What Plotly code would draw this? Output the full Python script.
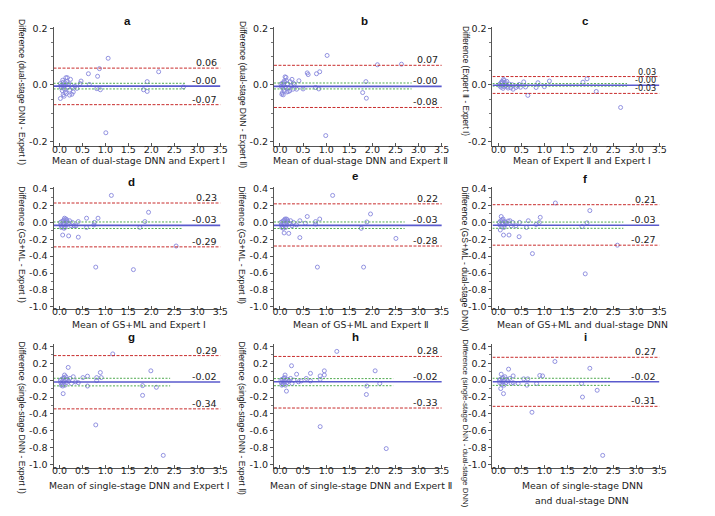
import plotly.graph_objects as go

# The page body has an 8px margin, so the figure is drawn 8px smaller and
# all reference-pixel positions are shifted by that offset.
OFF = 8
W, H = 715 - OFF, 516 - OFF

# ---------------- data ----------------
panel_letters = ["a", "b", "c", "d", "e", "f", "g", "h", "i"]

x_titles = [
    ["Mean of dual-stage DNN and Expert Ⅰ"],
    ["Mean of dual-stage DNN and Expert Ⅱ"],
    ["Mean of Expert Ⅱ and Expert Ⅰ"],
    ["Mean of GS+ML and Expert Ⅰ"],
    ["Mean of GS+ML and Expert Ⅱ"],
    ["Mean of GS+ML and dual-stage DNN"],
    ["Mean of single-stage DNN and Expert Ⅰ"],
    ["Mean of single-stage DNN and Expert Ⅱ"],
    ["Mean of single-stage DNN", "and dual-stage DNN"],
]
y_titles = [
    "Difference (dual-stage DNN - Expert Ⅰ)",
    "Difference (dual-stage DNN - Expert Ⅱ)",
    "Difference (Expert Ⅱ - Expert Ⅰ)",
    "Difference (GS+ML - Expert Ⅰ)",
    "Difference (GS+ML - Expert Ⅱ)",
    "Difference (GS+ML - dual-stage DNN)",
    "Difference (single-stage DNN - Expert Ⅰ)",
    "Difference (single-stage DNN - Expert Ⅱ)",
    "Difference (single-stage DNN - dual-stage DNN)",
]

# limits of agreement (upper, lower), mean difference, CI of mean, CI line end
upper_loa = [0.06, 0.07, 0.03, 0.23, 0.22, 0.21, 0.29, 0.28, 0.27]
lower_loa = [-0.07, -0.08, -0.03, -0.29, -0.28, -0.27, -0.34, -0.33, -0.31]
mean_diff = [-0.004, -0.005, -0.001, -0.035, -0.035, -0.033, -0.022, -0.020, -0.020]
ci_high = [0.006, 0.007, 0.005, 0.005, 0.005, 0.004, 0.022, 0.018, 0.022]
ci_low = [-0.014, -0.014, -0.004, -0.072, -0.072, -0.070, -0.068, -0.066, -0.062]
ci_end = [2.75, 2.85, 2.80, 2.68, 2.70, 2.72, 2.41, 2.45, 2.43]
upper_lbl = ["0.06", "0.07", "0.03", "0.23", "0.22", "0.21", "0.29", "0.28", "0.27"]
mean_lbl = ["-0.00", "-0.00", "-0.00", "-0.03", "-0.03", "-0.03", "-0.02", "-0.02", "-0.02"]
lower_lbl = ["-0.07", "-0.08", "-0.03", "-0.29", "-0.28", "-0.27", "-0.34", "-0.33", "-0.31"]

a_x = [1.06, 1.01, 2.16, 1.91, 1.91, 1.83, 2.70, 0.83, 0.87, 0.63, 0.89, 0.81, 0.47, 0.45, 0.38, 0.34,
       0.65, 0.22, 0.27, 0.14, 0.17, 0.02, 0.08, 0.02, 0.04, 0.05, 0.06, 0.08, 0.09, 0.10, 0.11, 0.12,
       0.13, 0.14, 0.15, 0.16, 0.18, 0.20, 0.22, 0.24, 0.25, 0.28, 0.30, 0.07, 0.03, 0.10]
a_y = [0.095, -0.170, 0.047, 0.012, -0.023, -0.017, -0.007, 0.031, 0.058, 0.040, -0.017, -0.013, 0.014,
       0.005, -0.012, -0.005, 0.002, -0.036, -0.033, 0.026, 0.026, -0.048, -0.035, 0.005, -0.010, 0.000,
       -0.020, 0.010, -0.005, 0.000, -0.015, 0.008, -0.025, 0.000, -0.030, 0.012, -0.008, 0.004, -0.018,
       0.020, 0.000, -0.010, -0.025, 0.017, -0.004, -0.040]

b_x = [1.02, 0.99, 2.11, 2.63, 1.86, 1.79, 1.87, 0.86, 0.59, 0.61, 0.79, 0.77, 0.84, 0.50, 0.41, 0.29,
       0.36, 0.11, 0.13, 0.18, 0.21, 0.07, 0.04, 0.02, 0.03, 0.05, 0.06, 0.08, 0.09, 0.10, 0.12, 0.14,
       0.15, 0.16, 0.19, 0.22, 0.24, 0.26, 0.28, 0.31, 0.05, 0.09]
b_y = [0.105, -0.180, 0.072, 0.074, 0.012, -0.027, -0.047, 0.047, 0.043, 0.037, 0.040, -0.009, -0.014,
       -0.014, 0.015, 0.006, -0.015, 0.029, 0.027, -0.023, -0.021, -0.035, -0.033, 0.003, -0.005, 0.006,
       -0.012, 0.000, -0.020, 0.010, -0.008, 0.015, -0.025, 0.004, -0.010, 0.012, -0.003, 0.020, -0.015,
       0.002, -0.028, 0.014]

c_x = [2.66, 2.13, 1.93, 1.84, 1.11, 0.86, 0.82, 1.00, 0.55, 0.64, 0.59, 0.32, 0.38, 0.21, 0.11, 0.07,
       0.02, 0.03, 0.05, 0.06, 0.08, 0.09, 0.10, 0.12, 0.13, 0.14, 0.15, 0.16, 0.18, 0.20, 0.24, 0.27,
       0.30, 0.42, 0.45, 0.48]
c_y = [-0.080, -0.023, 0.022, 0.010, 0.014, 0.008, -0.009, -0.006, 0.011, -0.037, -0.007, -0.015,
       -0.009, -0.011, 0.020, 0.011, 0.002, -0.004, 0.006, -0.008, 0.012, 0.000, -0.012, 0.016, -0.006,
       0.004, 0.009, -0.002, 0.013, -0.005, 0.003, -0.010, 0.001, -0.004, 0.002, -0.008]

d_x = [1.13, 0.79, 1.61, 1.94, 1.86, 1.75, 2.54, 0.59, 0.84, 0.76, 0.75, 0.59, 0.41, 0.41, 0.20, 0.07,
       0.32, 0.36, 0.11, 0.02, 0.03, 0.05, 0.06, 0.08, 0.09, 0.10, 0.12, 0.13, 0.14, 0.15, 0.17, 0.19,
       0.22, 0.25, 0.28, 0.04, 0.10, 0.16]
d_y = [0.320, -0.530, -0.560, 0.120, 0.010, -0.060, -0.280, 0.050, 0.050, 0.000, -0.030, -0.060, 0.010,
       -0.175, -0.160, -0.150, -0.040, -0.040, 0.050, 0.000, -0.030, 0.010, -0.050, 0.020, -0.020, 0.030,
       -0.060, 0.000, 0.040, -0.030, 0.010, -0.010, 0.020, -0.040, 0.000, -0.060, -0.070, 0.030]

e_x = [1.14, 0.81, 1.81, 1.96, 1.88, 1.76, 2.51, 0.59, 0.86, 0.77, 0.77, 0.55, 0.43, 0.19, 0.09, 0.36,
       0.43, 0.11, 0.02, 0.03, 0.05, 0.06, 0.08, 0.09, 0.10, 0.12, 0.13, 0.14, 0.15, 0.17, 0.20, 0.23,
       0.26, 0.29, 0.04, 0.07, 0.16]
e_y = [0.320, -0.530, -0.530, 0.100, 0.005, -0.070, -0.190, 0.070, 0.040, 0.010, -0.020, -0.010,
       -0.180, -0.130, -0.125, -0.030, 0.020, 0.040, 0.000, -0.030, 0.010, -0.050, 0.020, -0.020, 0.030,
       -0.060, 0.000, 0.040, -0.030, 0.010, -0.010, 0.020, -0.040, 0.000, -0.060, -0.070, 0.030]

f_x = [1.24, 0.74, 1.89, 1.99, 1.93, 1.82, 2.59, 0.91, 0.89, 0.82, 0.65, 0.61, 0.45, 0.23, 0.11, 0.46,
       0.38, 0.21, 0.06, 0.04, 0.02, 0.03, 0.05, 0.07, 0.08, 0.09, 0.10, 0.12, 0.13, 0.14, 0.16, 0.18,
       0.25, 0.28, 0.31]
f_y = [0.230, -0.370, -0.610, 0.140, -0.005, -0.050, -0.270, 0.060, 0.000, -0.025, 0.020, -0.060,
       -0.170, -0.150, -0.150, 0.000, -0.040, 0.016, 0.070, -0.090, 0.000, -0.030, 0.020, -0.050, 0.030,
       -0.020, 0.040, -0.060, 0.010, -0.030, 0.000, -0.010, 0.020, -0.040, 0.000]

g_x = [1.16, 0.79, 2.26, 1.99, 1.81, 2.11, 1.81, 0.89, 0.91, 0.81, 0.81, 0.61, 0.61, 0.51, 0.41, 0.30,
       0.19, 0.08, 0.02, 0.03, 0.05, 0.06, 0.08, 0.09, 0.10, 0.12, 0.13, 0.14, 0.15, 0.17, 0.20, 0.23,
       0.26, 0.04, 0.07, 0.11, 0.35]
g_y = [0.310, -0.530, -0.890, 0.110, -0.065, -0.085, -0.180, 0.090, 0.030, 0.030, -0.005, 0.047,
       -0.070, 0.030, -0.030, 0.040, 0.150, -0.160, 0.000, -0.030, 0.010, -0.050, 0.020, -0.020, 0.030,
       -0.060, 0.000, 0.040, -0.030, 0.010, -0.010, 0.020, -0.040, -0.060, -0.070, 0.060, -0.020]

h_x = [1.23, 0.87, 2.30, 2.06, 2.16, 1.88, 1.87, 0.96, 0.96, 0.87, 0.87, 0.66, 0.66, 0.57, 0.46, 0.36,
       0.25, 0.14, 0.02, 0.03, 0.05, 0.06, 0.08, 0.09, 0.10, 0.12, 0.13, 0.15, 0.17, 0.20, 0.23, 0.26,
       0.04, 0.07, 0.11, 0.30, 0.40]
h_y = [0.340, -0.550, -0.810, 0.110, -0.040, -0.070, -0.170, 0.110, 0.060, 0.050, 0.010, 0.080,
       -0.010, 0.020, -0.010, 0.070, 0.170, -0.130, 0.000, -0.030, 0.010, -0.050, 0.020, -0.020, 0.030,
       -0.060, 0.000, -0.030, 0.010, -0.010, 0.020, -0.040, -0.060, -0.050, 0.060, 0.000, -0.020]

i_x = [1.23, 0.73, 2.27, 1.99, 2.15, 1.81, 1.83, 0.90, 0.96, 0.83, 0.64, 0.62, 0.55, 0.43, 0.32, 0.32,
       0.22, 0.11, 0.06, 0.05, 0.02, 0.03, 0.04, 0.07, 0.08, 0.09, 0.10, 0.12, 0.13, 0.14, 0.16, 0.18,
       0.20, 0.25, 0.28]
i_y = [0.220, -0.380, -0.890, 0.140, -0.120, -0.040, -0.200, 0.055, 0.050, -0.040, 0.015, -0.060,
       0.015, -0.040, 0.050, -0.030, 0.130, -0.160, 0.070, -0.100, 0.000, -0.030, 0.010, -0.050, 0.020,
       -0.020, 0.030, -0.060, 0.000, 0.040, -0.030, 0.010, -0.010, 0.020, -0.040]

xs = [a_x, b_x, c_x, d_x, e_x, f_x, g_x, h_x, i_x]
ys = [a_y, b_y, c_y, d_y, e_y, f_y, g_y, h_y, i_y]

x_tick_vals = [0.0, 0.5, 1.0, 1.5, 2.0, 2.5, 3.0, 3.5]
y_tick_vals_small = [-0.2, 0.0, 0.2]
y_tick_vals_large = [-1.0, -0.8, -0.6, -0.4, -0.2, 0.0, 0.2, 0.4]

# ---------------- layout geometry (reference pixels) ----------------
col_px = [(52, 222), (275, 446), (496, 666)]
row_px = [(23, 144), (185, 309), (345, 470)]
x_range = [-0.13, 3.53]
y_ranges = [[-0.2175, 0.207], [-1.025, 0.425], [-1.035, 0.423]]
title_pos = [(127, 17), (367, 17), (590, 17), (131, 180), (357, 174), (590, 177),
             (131, 338), (357, 338), (590, 338)]
ytitle_x = [20, 243, 468]
ytitle_top = [13, 15, 20, 183, 183, 183, 340, 340, 338]
ytitle_size = [8.6, 8.6, 8.2, 8.8, 8.8, 8.6, 8.6, 8.6, 7.9]
xtitle_y = [159, 325, 488]
xtitle_cx = [138, 363, 587]
label_size = [9.5, 9.5, 8.2, 9.5, 9.5, 9.5, 9.5, 9.5, 9.5]

RED = "rgb(200,45,45)"
BLUE = "rgb(90,90,205)"
GREEN = "rgb(80,170,80)"
MARK = "rgb(135,135,220)"
FONT = "Liberation Sans, Arial, sans-serif"
WIDE = "DejaVu Sans, Verdana, sans-serif"


def px_x(p):
    return (p - OFF) / W


def px_y(p):
    return 1 - (p - OFF) / H


fig = go.Figure()
layout = dict(width=W, height=H, margin=dict(l=0, r=0, t=0, b=0),
              paper_bgcolor="white", plot_bgcolor="white", showlegend=False,
              font=dict(family=FONT, size=9, color="#222"))
annotations = []

for k in range(9):
    r, c = divmod(k, 3)
    sfx = "" if k == 0 else str(k + 1)
    xa, ya = "x" + sfx, "y" + sfx
    x0 = x_range[0]
    x1 = 3.5
    # scatter
    fig.add_trace(go.Scatter(x=xs[k], y=ys[k], mode="markers", xaxis=xa, yaxis=ya,
                             marker=dict(symbol="circle-open", size=4,
                                         color=MARK, line=dict(width=0.9, color=MARK))))
    # CI of mean (green dotted)
    for v in (ci_high[k], ci_low[k]):
        fig.add_trace(go.Scatter(x=[x0, ci_end[k]], y=[v, v], mode="lines", xaxis=xa, yaxis=ya,
                                 line=dict(color=GREEN, width=1, dash="2px,1.5px")))
    # limits of agreement (red dashed)
    for v in (upper_loa[k], lower_loa[k]):
        fig.add_trace(go.Scatter(x=[x0, x1], y=[v, v], mode="lines", xaxis=xa, yaxis=ya,
                                 line=dict(color=RED, width=1, dash="3px,1.5px")))
    # mean difference (blue solid)
    fig.add_trace(go.Scatter(x=[x0, x1], y=[mean_diff[k], mean_diff[k]], mode="lines",
                             xaxis=xa, yaxis=ya, line=dict(color=BLUE, width=1.6)))
    # line labels
    for v, t in ((upper_loa[k], upper_lbl[k]), (mean_diff[k], mean_lbl[k]), (lower_loa[k], lower_lbl[k])):
        annotations.append(dict(x=3.47, y=v, xref=xa, yref=ya, text=t, showarrow=False,
                                xanchor="right", yanchor="bottom", yshift=-2,
                                font=dict(family=WIDE, size=label_size[k], color="#222")))

    ytv = y_tick_vals_small if r == 0 else y_tick_vals_large
    layout["xaxis" + sfx] = dict(
        domain=[px_x(col_px[c][0]), px_x(col_px[c][1])], range=x_range, anchor=ya,
        tickvals=x_tick_vals, ticktext=["%.1f" % v for v in x_tick_vals],
        showgrid=False, zeroline=False, showline=True, linecolor="#555", linewidth=1,
        ticks="inside", ticklen=3, tickcolor="#555", tickfont=dict(size=9.5, family=WIDE),
        ticklabelstandoff=-6)
    layout["yaxis" + sfx] = dict(
        domain=[px_y(row_px[r][1]), px_y(row_px[r][0])], range=y_ranges[r], anchor=xa,
        tickvals=ytv, ticktext=["%.1f" % v for v in ytv],
        showgrid=False, zeroline=False, showline=True, linecolor="#555", linewidth=1,
        ticks="outside", ticklen=3, tickcolor="#555", tickfont=dict(size=9.5, family=WIDE),
        minor=dict(dtick=0.1 if r else 0.05, ticks="outside", ticklen=2, tickcolor="#777"))

    # panel letter
    tx, ty = title_pos[k]
    annotations.append(dict(x=px_x(tx), y=px_y(ty), xref="paper", yref="paper",
                            text="<b>%s</b>" % panel_letters[k], showarrow=False,
                            xanchor="center", yanchor="middle",
                            font=dict(family=FONT, size=11.5, color="#111")))
    # y title (reads downward, starts near the top of the panel)
    annotations.append(dict(x=px_x(ytitle_x[c]), y=px_y(ytitle_top[k]),
                            xref="paper", yref="paper", text=y_titles[k], showarrow=False,
                            textangle=90, xanchor="center", yanchor="top",
                            font=dict(family=FONT, size=ytitle_size[k], color="#222")))
    # x title (one annotation per line)
    for j, line in enumerate(x_titles[k]):
        annotations.append(dict(x=px_x(xtitle_cx[c]), y=px_y(xtitle_y[r] + 15 * j),
                                xref="paper", yref="paper", text=line, showarrow=False,
                                xanchor="center", yanchor="middle",
                                font=dict(family=WIDE, size=9.3, color="#222")))

layout["annotations"] = annotations
fig.update_layout(**layout)
fig.write_html("out.html")
